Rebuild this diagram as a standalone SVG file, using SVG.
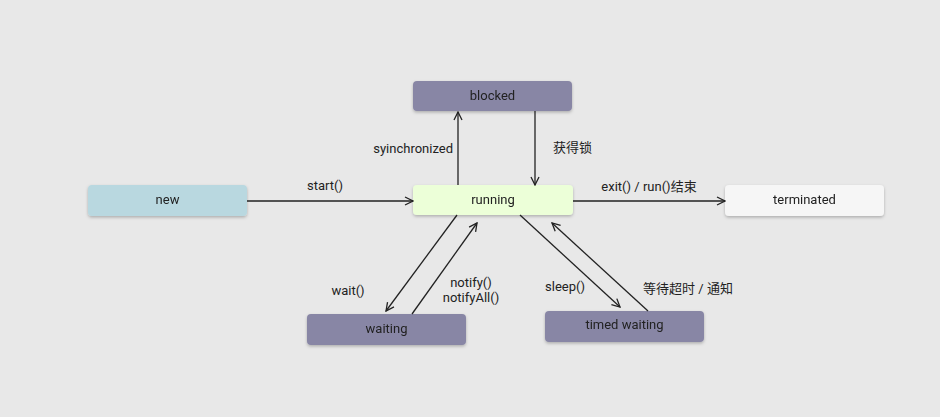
<svg xmlns="http://www.w3.org/2000/svg" width="940" height="417" viewBox="0 0 940 417">
<defs>
<filter id="sh" x="-10%" y="-30%" width="120%" height="170%">
<feDropShadow dx="0" dy="1.5" stdDeviation="1.5" flood-color="#000" flood-opacity="0.25"/>
</filter>
<marker id="arr" viewBox="0 0 10 10" refX="9" refY="5" markerWidth="10" markerHeight="10" markerUnits="userSpaceOnUse" orient="auto">
<path d="M1,1 L9,5 L1,9" fill="none" stroke="#222" stroke-width="1.3"/>
</marker>
</defs>
<style>
text{font-family:Roboto,"Noto Sans CJK SC",sans-serif;font-size:13px;fill:#222}
.n{filter:url(#sh)}
.c line{stroke:#222;stroke-width:1.3;marker-end:url(#arr)}
.lbl{text-anchor:middle}
</style>
<rect width="940" height="417" fill="#e8e8e8"/>
<g id="blocked" class="n"><rect x="413" y="81" width="159" height="30" rx="4" fill="#8886a5"/><text x="492.5" y="99.5" class="lbl">blocked</text></g>
<g id="running" class="n"><rect x="413" y="185" width="160" height="30" rx="4" fill="#ecffd8"/><text x="493" y="203.5" class="lbl">running</text></g>
<g id="new" class="n"><rect x="88" y="185" width="159" height="31" rx="4" fill="#b9d8e0"/><text x="167.5" y="203.5" class="lbl">new</text></g>
<g id="terminated" class="n"><rect x="725" y="185" width="159" height="31" rx="4" fill="#f6f6f6"/><text x="804.5" y="203.5" class="lbl">terminated</text></g>
<g id="waiting" class="n"><rect x="307" y="314" width="159" height="31" rx="4" fill="#8886a5"/><text x="386.5" y="332.5" class="lbl">waiting</text></g>
<g id="timed_waiting" class="n"><rect x="545" y="311" width="159" height="31" rx="4" fill="#8886a5"/><text x="624.5" y="329" class="lbl">timed waiting</text></g>
<g id="connectors" class="c">
<line x1="247" y1="201" x2="413" y2="201"/>
<line x1="458" y1="185" x2="458" y2="112"/>
<line x1="535" y1="111" x2="535" y2="185"/>
<line x1="573" y1="201" x2="725" y2="201"/>
<line x1="457" y1="215" x2="386" y2="311"/>
<line x1="412" y1="314" x2="477" y2="223"/>
<line x1="520" y1="215" x2="620" y2="307"/>
<line x1="648" y1="311" x2="552" y2="223"/>
</g>
<g id="labels">
<text x="325" y="190" class="lbl">start()</text>
<text x="453" y="153" text-anchor="end">syinchronized</text>
<text x="553" y="152">获得锁</text>
<text x="649" y="191" class="lbl">exit() / run()结束</text>
<text x="348" y="295" class="lbl">wait()</text>
<text x="471" y="287" class="lbl">notify()</text>
<text x="471" y="302" class="lbl">notifyAll()</text>
<text x="565" y="291" class="lbl">sleep()</text>
<text x="688" y="293" class="lbl">等待超时 / 通知</text>
</g>
</svg>
